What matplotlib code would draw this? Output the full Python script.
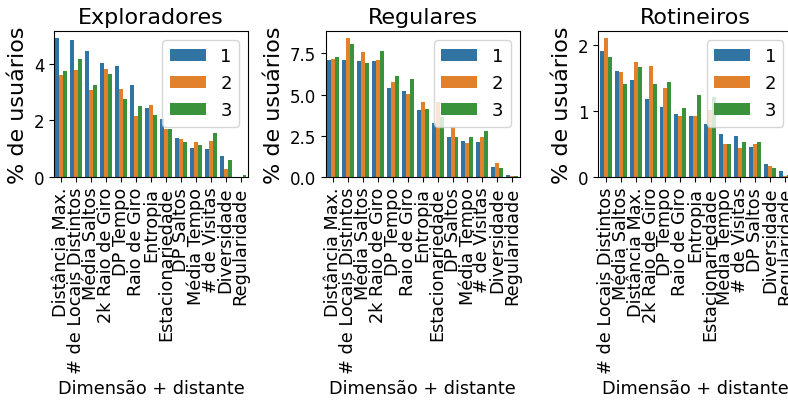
import pandas as pd
import seaborn as sns
import matplotlib
matplotlib.use("Agg")
import matplotlib.pyplot as plt
from matplotlib.ticker import MultipleLocator

# Exploradores
exp_cats = ["Distância Max.", "# de Locais Distintos", "Média Saltos", "2k Raio de Giro",
            "DP Tempo", "Raio de Giro", "Entropia", "Estacionariedade", "DP Saltos",
            "Média Tempo", "# de Visitas", "Diversidade", "Regularidade"]
exp_1 = [4.90, 4.84, 4.46, 4.04, 3.93, 3.24, 2.43, 2.06, 1.39, 1.03, 0.98, 0.75, 0.01]
exp_2 = [3.61, 3.79, 3.06, 3.82, 3.09, 2.15, 2.55, 1.71, 1.33, 1.22, 1.27, 0.29, 0.02]
exp_3 = [3.73, 4.18, 3.26, 3.65, 2.77, 2.51, 2.18, 1.68, 1.25, 1.12, 1.55, 0.61, 0.08]

# Regulares
reg_cats = ["Distância Max.", "# de Locais Distintos", "Média Saltos", "2k Raio de Giro",
            "DP Tempo", "Raio de Giro", "Entropia", "Estacionariedade", "DP Saltos",
            "Média Tempo", "# de Visitas", "Diversidade", "Regularidade"]
reg_1 = [7.08, 7.08, 7.02, 7.02, 5.40, 5.20, 4.09, 3.29, 2.42, 2.16, 2.14, 0.62, 0.10]
reg_2 = [7.16, 8.43, 7.60, 7.12, 5.77, 5.06, 4.58, 4.54, 3.04, 2.04, 2.42, 0.87, 0.04]
reg_3 = [7.28, 8.06, 6.92, 7.62, 6.13, 5.95, 4.13, 3.63, 2.42, 2.44, 2.80, 0.58, 0.08]

# Rotineiros
rot_cats = ["# de Locais Distintos", "Média Saltos", "Distância Max.", "2k Raio de Giro",
            "DP Tempo", "Raio de Giro", "Entropia", "Estacionariedade", "Média Tempo",
            "# de Visitas", "DP Saltos", "Diversidade", "Regularidade"]
rot_1 = [1.92, 1.61, 1.47, 1.18, 1.07, 0.96, 0.93, 0.81, 0.65, 0.62, 0.45, 0.20, 0.09]
rot_2 = [2.11, 1.60, 1.74, 1.69, 1.35, 0.92, 0.93, 1.02, 0.50, 0.44, 0.50, 0.17, 0.01]
rot_3 = [1.83, 1.41, 1.67, 1.41, 1.44, 1.05, 1.24, 1.21, 0.50, 0.54, 0.54, 0.14, 0.03]

titles = ["Exploradores", "Regulares", "Rotineiros"]
ysteps = [2, 2.5, 1]
groups = [(exp_cats, exp_1, exp_2, exp_3),
          (reg_cats, reg_1, reg_2, reg_3),
          (rot_cats, rot_1, rot_2, rot_3)]

fig = plt.figure(figsize=(7.88, 4.02), dpi=100)
lefts = [0.0685, 0.4133, 0.7593]

for i, (cats, v1, v2, v3) in enumerate(groups):
    ax = fig.add_axes([lefts[i], 0.557, 0.2462, 0.363])
    rows = []
    for h, vals in zip(["1", "2", "3"], [v1, v2, v3]):
        for c, v in zip(cats, vals):
            rows.append({"dim": c, "pct": v, "k": h})
    df = pd.DataFrame(rows)
    sns.barplot(data=df, x="dim", y="pct", hue="k", order=cats, ax=ax,
                saturation=0.75, errorbar=None)
    ax.set_title(titles[i], fontsize=16)
    ax.set_ylabel("% de usuários", fontsize=16)
    ax.set_xlabel("Dimensão + distante", fontsize=12.7)
    ax.yaxis.set_major_locator(MultipleLocator(ysteps[i]))
    ax.tick_params(axis="y", labelsize=12)
    ax.tick_params(axis="x", labelsize=12.7, labelrotation=90)
    ax.legend(loc="upper right", fontsize=13, title=None)

fig.savefig("out.png", dpi=100)
